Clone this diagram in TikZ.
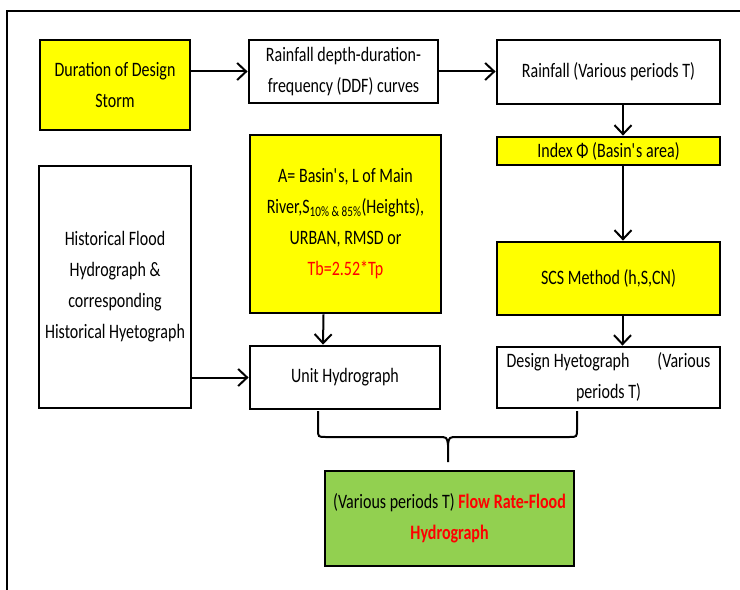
\documentclass[tikz,border=0pt]{standalone}
\usepackage{fontspec}
\setmainfont[FakeStretch=0.78]{Carlito}
\usepackage{tikz}
\usetikzlibrary{arrows.meta}

\definecolor{boxyellow}{HTML}{FFFF00}
\definecolor{boxgreen}{HTML}{92D050}
\definecolor{txtred}{HTML}{FF0000}

\begin{document}
\begin{tikzpicture}[x=1bp, y=-1bp,
    box/.style={draw, line width=2.8bp, align=center, inner sep=0pt,
      font=\fontsize{20.5bp}{31bp}\selectfont},
    flow/.style={line width=2bp, -{Straight Barb[length=9bp, width=17bp]}},
    brace/.style={line width=2bp}]
  \useasboundingbox (0,0) rectangle (740,590);
  % outer frame (only top and left edges are visible)
  \draw[line width=2.8bp] (7,590) -- (7,11) -- (740,11);

  \node[box, fill=boxyellow, minimum width=150bp, minimum height=90bp] (dur) at (115,85)
    {Duration of Design\\Storm};
  \node[box, minimum width=189bp, minimum height=63bp] (ddf) at (343.5,71.5)
    {Rainfall depth-duration-\\frequency (DDF) curves};
  \node[box, minimum width=223bp, minimum height=64bp] (rain) at (608.5,72)
    {Rainfall (Various periods T)};
  \node[box, fill=boxyellow, minimum width=223bp, minimum height=28bp] (idx) at (608.5,151)
    {Index Φ (Basin\textquotesingle s area)};
  \node[box, fill=boxyellow, minimum width=223bp, minimum height=73bp] (scs) at (608.5,278.5)
    {SCS Method (h,S,CN)};
  \node[box, minimum width=223bp, minimum height=61bp] (dhy) at (608.5,377.5)
    {\makebox[204bp]{Design Hyetograph\hfill(Various}\\periods T)};
  \node[box, fill=boxyellow, minimum width=191bp, minimum height=178bp] (par) at (345.5,224)
    {A= Basin\textquotesingle s, L of Main\\River,S\textsubscript{10\% \& 85\%}(Heights),\\URBAN, RMSD or\\
     \textcolor{txtred}{Tb=2.52*Tp}};
  \node[box, minimum width=190bp, minimum height=63bp] (unit) at (345,377.5)
    {Unit Hydrograph};
  \node[box, minimum width=152bp, minimum height=242bp] (hist) at (115,287)
    {Historical Flood\\Hydrograph \&\\corresponding\\Historical Hyetograph};
  \node[box, fill=boxgreen, minimum width=249bp, minimum height=95bp] (out) at (449.5,518.5)
    {(Various periods T) \textcolor{txtred}{\bfseries Flow Rate-Flood}\\
     \textcolor{txtred}{\bfseries Hydrograph}};

  \draw[flow] (dur.east |- ddf.west) -- (ddf.west);
  \draw[flow] (ddf.east) -- (rain.west |- ddf.east);
  \draw[flow] ([xshift=14.5bp]rain.south) -- ([xshift=14.5bp]idx.north);
  \draw[flow] ([xshift=14.5bp]idx.south) -- ([xshift=14.5bp]scs.north);
  \draw[flow] ([xshift=14bp]scs.south) -- ([xshift=14bp]dhy.north);
  \draw[flow] ([xshift=-22bp]par.south) -- ([xshift=-22bp]unit.south |- unit.north);
  \draw[flow] (hist.east |- unit.west) -- (unit.west);

  % brace joining the two hydrograph boxes
  \coordinate (bl) at (318,411);
  \coordinate (br) at (577,411);
  \coordinate (bt) at (448,462);
  \draw[brace] (bl) -- (318,429) .. controls (318,437) .. (326,437) -- (438,437)
    .. controls (447,437) .. (448,445) -- (bt);
  \draw[brace] (br) -- (577,429) .. controls (577,437) .. (569,437) -- (458,437)
    .. controls (449,437) .. (448,445);
\end{tikzpicture}
\end{document}
